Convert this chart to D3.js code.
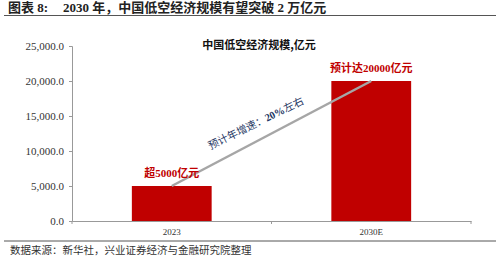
<!DOCTYPE html>
<html>
<head>
<meta charset="utf-8">
<script src="https://cdn.jsdelivr.net/npm/d3@7"></script>
<style>
  body { margin: 0; background: #fff; }
  svg { display: block; }
</style>
</head>
<body>
<script>
const categories = ["2023", "2030E"];
const values = [5000, 20000];
const barLabels = ["超5000亿元", "预计达20000亿元"];
const yTicks = [0, 5000, 10000, 15000, 20000, 25000];
const chartTitle = "中国低空经济规模,亿元";
const headerLabel = "图表 8:";
const headerText = "2030 年，中国低空经济规模有望突破 2 万亿元";
const footerText = "数据来源：新华社，兴业证券经济与金融研究院整理";
const growthParts = ["预计年增速：", "20%", "左右"];

const w = 500, h = 258;
const serif = "'Liberation Serif', 'Noto Sans CJK SC', serif";
const sans = "'Noto Sans CJK SC', 'Liberation Sans', sans-serif";

const svg = d3.select("body").append("svg")
  .attr("width", w).attr("height", h);

// header
svg.append("text")
  .attr("x", 8).attr("y", 12)
  .attr("font-family", serif)
  .attr("font-weight", "bold")
  .attr("font-size", 13)
  .attr("fill", "#222")
  .text(headerLabel);
svg.append("text")
  .attr("x", 63).attr("y", 12)
  .attr("font-family", serif)
  .attr("font-weight", "bold")
  .attr("font-size", 13)
  .attr("fill", "#222")
  .text(headerText);
svg.append("line")
  .attr("x1", 4).attr("x2", 496)
  .attr("y1", 15.5).attr("y2", 15.5)
  .attr("stroke", "#555").attr("stroke-width", 1.2);

// footer
svg.append("line")
  .attr("x1", 4).attr("x2", 496)
  .attr("y1", 241).attr("y2", 241)
  .attr("stroke", "#555").attr("stroke-width", 1);
svg.append("text")
  .attr("x", 10).attr("y", 254)
  .attr("font-family", serif)
  .attr("font-size", 10.5)
  .attr("fill", "#333")
  .text(footerText);

const mLeft = 72, mRight = 471, mTop = 46, mBottom = 221;

const xScale = d3.scaleBand()
  .domain(categories)
  .range([mLeft, mRight])
  .paddingInner(0.6)
  .paddingOuter(0.3);

const yScale = d3.scaleLinear()
  .domain([0, 25000])
  .range([mBottom, mTop]);

const yAxis = d3.axisLeft(yScale)
  .tickValues(yTicks)
  .tickSize(3)
  .tickFormat(d3.format(",.1f"));

const gy = svg.append("g")
  .attr("transform", "translate(" + mLeft + ",0)")
  .call(yAxis);
gy.selectAll("path, line").attr("stroke", "#999");
gy.selectAll("text")
  .attr("font-family", serif)
  .attr("font-size", 11)
  .attr("fill", "#333")
  .attr("x", -8);

const xAxis = d3.axisBottom(xScale).tickSize(0);
const gx = svg.append("g")
  .attr("transform", "translate(0," + mBottom + ")")
  .call(xAxis);
gx.select("path").attr("stroke", "#999");
gx.selectAll("text")
  .attr("font-family", serif)
  .attr("font-size", 9)
  .attr("fill", "#333")
  .attr("dy", "1.2em");
// category boundary ticks
const bounds = [mLeft, (xScale(categories[0]) + xScale.bandwidth() + xScale(categories[1])) / 2, mRight];
gx.selectAll(".bnd").data(bounds).enter().append("line")
  .attr("x1", d => d).attr("x2", d => d)
  .attr("y1", 0).attr("y2", 3)
  .attr("stroke", "#999");

// bars
svg.selectAll("rect.bar")
  .data(values)
  .enter()
  .append("rect")
  .attr("class", "bar")
  .attr("x", (d, i) => xScale(categories[i]))
  .attr("y", d => yScale(d))
  .attr("width", xScale.bandwidth())
  .attr("height", d => mBottom - yScale(d))
  .attr("fill", "#c00000");

// growth line
const cx = i => xScale(categories[i]) + xScale.bandwidth() / 2;
svg.append("line")
  .attr("x1", cx(0)).attr("y1", yScale(values[0]))
  .attr("x2", cx(1)).attr("y2", yScale(values[1]))
  .attr("stroke", "#a6a6a6")
  .attr("stroke-width", 2.5);

const angle = Math.atan2(yScale(values[1]) - yScale(values[0]), cx(1) - cx(0)) * 180 / Math.PI;
const mx = (cx(0) + cx(1)) / 2 - 14, my = (yScale(values[0]) + yScale(values[1])) / 2 - 7;
const gt = svg.append("text")
  .attr("transform", "translate(" + mx + "," + my + ") rotate(" + (angle + 1.5) + ")")
  .attr("text-anchor", "middle")
  .attr("font-family", serif)
  .attr("font-size", 10.5)
  .attr("fill", "#1f3864");
gt.selectAll("tspan")
  .data(growthParts)
  .enter()
  .append("tspan")
  .attr("font-weight", (d, i) => i === 1 ? "bold" : "normal")
  .text(d => d);

// bar labels
svg.selectAll("text.blabel")
  .data(values)
  .enter()
  .append("text")
  .attr("class", "blabel")
  .attr("x", (d, i) => cx(i))
  .attr("y", d => yScale(d) - 9)
  .attr("text-anchor", "middle")
  .attr("font-family", serif)
  .attr("font-weight", "bold")
  .attr("font-size", 11)
  .attr("fill", "#c00000")
  .text((d, i) => barLabels[i]);

// chart title
svg.append("text")
  .attr("x", 259).attr("y", 49)
  .attr("text-anchor", "middle")
  .attr("font-family", sans)
  .attr("font-weight", "bold")
  .attr("font-size", 11)
  .attr("fill", "#111")
  .text(chartTitle);
</script>
</body>
</html>
